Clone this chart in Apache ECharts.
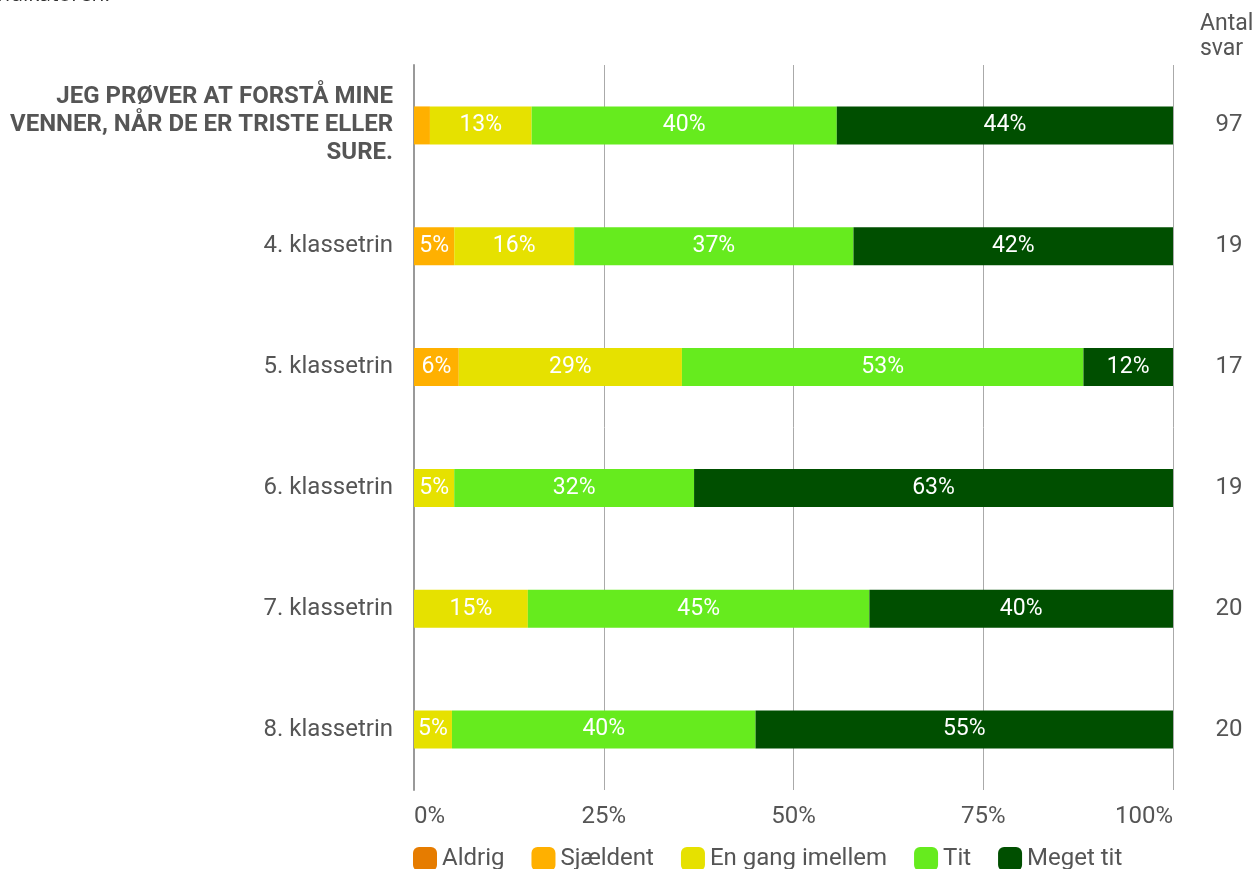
<!DOCTYPE html>
<html><head><meta charset="utf-8">
<script src="https://cdn.jsdelivr.net/npm/echarts@6/dist/echarts.min.js"></script>
<style>html,body{margin:0;padding:0;background:#fff}#c{width:1257px;height:869px}</style>
</head><body><div id="c"></div>
<script>
const categories = ['JEG PRØVER AT FORSTÅ MINE\nVENNER, NÅR DE ER TRISTE ELLER\nSURE.', '4. klassetrin', '5. klassetrin', '6. klassetrin', '7. klassetrin', '8. klassetrin'];
const counts = ['97', '19', '17', '19', '20', '20'];
const seriesNames = ['Aldrig', 'Sjældent', 'En gang imellem', 'Tit', 'Meget tit'];
const aldrig = [0, 0, 0, 0, 0, 0];
const sjaeldent = [2.1, 5.3, 5.9, 0, 0, 0];
const engang = [13.4, 15.8, 29.4, 5.3, 15, 5];
const tit = [40.2, 36.8, 52.9, 31.6, 45, 40];
const megetTit = [44.3, 42.1, 11.8, 63.2, 40, 55];
const xTicks = [0, 25, 50, 75, 100];
const colors = ['#e67c00', '#ffb000', '#e6e100', '#66eb1e', '#004f00'];

const values = [aldrig, sjaeldent, engang, tit, megetTit];
const chart = echarts.init(document.getElementById('c'));
const font = 'Roboto';
chart.setOption({
  animation: false,
  textStyle: {fontFamily: font},
  grid: {left: 414, right: 84, top: 65, bottom: 79, containLabel: false},
  legend: {
    left: 413, top: 847, padding: 0, itemWidth: 24, itemHeight: 24, itemGap: 27,
    icon: 'roundRect',
    textStyle: {fontSize: 24, color: '#555', fontFamily: font},
    data: seriesNames
  },
  graphic: [
    {type: 'text', left: -8, top: -15, style: {text: 'indikatoren.', fontSize: 21, fill: '#333', fontFamily: 'Open Sans'}},
    {type: 'text', left: 1200, top: 12, style: {text: 'Antal\nsvar', fontSize: 23, fill: '#555', fontFamily: font, align: 'center', lineHeight: 25, x: 30}}
  ],
  xAxis: {
    type: 'value', min: 0, max: 100, interval: 25,
    axisLabel: {formatter: v => xTicks.includes(v) ? v + '%' : '', fontSize: 24, color: '#555', margin: 15,
      alignMinLabel: 'left', alignMaxLabel: 'right'},
    splitLine: {show: true, lineStyle: {color: '#aaa', width: 1}},
    axisLine: {show: false}, axisTick: {show: false}
  },
  yAxis: [{
    type: 'category', inverse: true, data: categories,
    axisLine: {show: true, lineStyle: {color: '#999', width: 2}},
    axisTick: {show: false},
    axisLabel: {
      margin: 21, fontSize: 24, color: '#555', align: 'right',
      formatter: (v, i) => i === 0 ? v.split('\n').map(s => '{b|' + s + '}').join('\n') : v,
      rich: {b: {fontWeight: 'bold', fontSize: 24, color: '#555', lineHeight: 28, fontFamily: font, align: 'right'}}
    }
  }, {
    type: 'category', inverse: true, data: counts, position: 'right',
    axisLine: {show: false}, axisTick: {show: false},
    axisLabel: {margin: 56, fontSize: 24, color: '#555', align: 'center'}
  }],
  series: seriesNames.map((n, k) => ({
    name: n, type: 'bar', stack: 'a', barWidth: 38,
    itemStyle: {color: colors[k]},
    label: {show: true, position: 'inside', color: '#fff', fontSize: 23, fontFamily: font,
      formatter: p => p.value >= 3 ? Math.round(p.value) + '%' : ''},
    data: values[k]
  }))
});
</script></body></html>
